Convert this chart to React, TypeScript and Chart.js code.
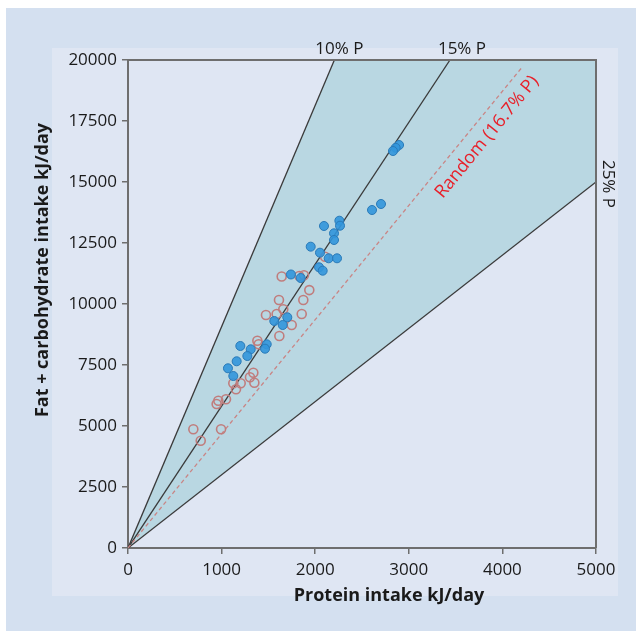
import React, { useEffect, useRef } from 'react';
import { Chart, registerables } from 'chart.js';
Chart.register(...registerables);

// Filled blue circles
const blueProtein = [2896, 2860, 2831, 2703, 2607, 2258, 2265, 2094, 2201, 2201, 1952, 2051, 2144, 2233, 2041, 2080, 1741, 1845, 1563, 1702, 1653, 1200, 1311, 1482, 1464, 1275, 1161, 1068, 1125];
const blueFatCarb = [16516, 16400, 16270, 14098, 13852, 13414, 13209, 13197, 12897, 12623, 12350, 12103, 11873, 11873, 11504, 11365, 11210, 11066, 9303, 9455, 9139, 8279, 8143, 8348, 8168, 7869, 7652, 7365, 7049];

// Open (hollow) circles
const openProtein = [2105, 1642, 1830, 1880, 1937, 1613, 1873, 1474, 1588, 1659, 1749, 1856, 1617, 1382, 1396, 1339, 1303, 1350, 1125, 1204, 1154, 1047, 965, 947, 698, 994, 777];
const openFatCarb = [11939, 11130, 11148, 11176, 10570, 10164, 10164, 9549, 9590, 9783, 9139, 9590, 8689, 8496, 8348, 7185, 6996, 6775, 6750, 6750, 6504, 6094, 6037, 5902, 4865, 4865, 4398];

// Reference lines (from origin to end point)
const refLabels = ['10% P', '15% P', '25% P', 'Random (16.7% P)'];
const refEndProtein = [2205, 3440, 5000, 4210];
const refEndFatCarb = [20000, 20000, 15000, 19700];

// Axes
const xMin = 0, xMax = 5000, xStep = 1000;
const yMin = 0, yMax = 20000, yStep = 2500;
const xTitle = 'Protein intake kJ/day';
const yTitle = 'Fat + carbohydrate intake kJ/day';

const FONT = "'Open Sans', sans-serif";

const pts = (xs: number[], ys: number[]) => xs.map((x, i) => ({ x, y: ys[i] }));

export default function App() {
  const ref = useRef<HTMLCanvasElement>(null);
  useEffect(() => {
    const canvas = ref.current!;
    const shadePoly = [
      { x: 0, y: 0 },
      { x: refEndProtein[0], y: refEndFatCarb[0] },
      { x: xMax, y: yMax },
      { x: refEndProtein[2], y: refEndFatCarb[2] },
      { x: 0, y: 0 },
    ];
    const refLine = (i: number) => [{ x: 0, y: 0 }, { x: refEndProtein[i], y: refEndFatCarb[i] }];

    const bgPlugin = {
      id: 'bg',
      beforeDraw(chart: any) {
        const c = chart.ctx;
        c.save();
        c.fillStyle = '#ffffff';
        c.fillRect(0, 0, chart.width, chart.height);
        c.fillStyle = '#d4e0f0';
        c.fillRect(6, 8, 630, 623);
        c.fillStyle = '#dfe6f3';
        c.fillRect(52, 48, 566, 548);
        c.restore();
      },
      afterDatasetsDraw(chart: any) {
        const c = chart.ctx;
        const a = chart.chartArea;
        c.save();
        c.strokeStyle = '#6e6e6e';
        c.lineWidth = 2;
        c.beginPath();
        c.moveTo(a.left, a.top);
        c.lineTo(a.right, a.top);
        c.lineTo(a.right, a.bottom);
        c.stroke();
        c.restore();
      },
      afterDraw(chart: any) {
        const c = chart.ctx;
        const xs = chart.scales.x, ys = chart.scales.y;
        c.save();
        c.fillStyle = '#1a1a1a';
        c.font = `17px ${FONT}`;
        c.textAlign = 'center';
        c.textBaseline = 'middle';
        c.fillText(refLabels[0], xs.getPixelForValue(refEndProtein[0]) + 5, 49);
        c.fillText(refLabels[1], xs.getPixelForValue(refEndProtein[1]) + 12, 49);
        // 25% label rotated
        c.save();
        c.translate(608, ys.getPixelForValue(refEndFatCarb[2]) + 2);
        c.rotate(Math.PI / 2);
        c.textAlign = 'center';
        c.fillText(refLabels[2], 0, 0);
        c.restore();
        // Random label
        const x0 = xs.getPixelForValue(0), y0 = ys.getPixelForValue(0);
        const x1 = xs.getPixelForValue(refEndProtein[3]), y1 = ys.getPixelForValue(refEndFatCarb[3]);
        const ang = Math.atan2(y1 - y0, x1 - x0);
        c.save();
        c.translate(xs.getPixelForValue(3835), ys.getPixelForValue(16844));
        c.rotate(ang);
        c.fillStyle = '#e8202a';
        c.font = `18px ${FONT}`;
        c.fillText(refLabels[3], 0, 0);
        c.restore();
        // axis titles
        c.font = `bold 18px ${FONT}`;
        c.fillStyle = '#1a1a1a';
        c.fillText(xTitle, 389, 596);
        c.save();
        c.translate(43, 270);
        c.rotate(-Math.PI / 2);
        c.fillText(yTitle, 0, 0);
        c.restore();
        c.restore();
      },
    };

    const chart = new Chart(canvas, {
      type: 'scatter',
      data: {
        datasets: [
          {
            data: pts(blueProtein, blueFatCarb),
            backgroundColor: 'rgba(50,150,220,0.9)',
            borderColor: '#2a7ab8',
            borderWidth: 1,
            pointRadius: 4.5,
            order: 1,
          },
          {
            data: pts(openProtein, openFatCarb),
            backgroundColor: 'rgba(0,0,0,0)',
            borderColor: '#c07d7d',
            borderWidth: 1.6,
            pointRadius: 4.5,
            order: 2,
          },
          {
            data: refLine(0), showLine: true, borderColor: '#3a3a3a', borderWidth: 1.3, pointRadius: 0, order: 5,
          },
          {
            data: refLine(1), showLine: true, borderColor: '#3a3a3a', borderWidth: 1.3, pointRadius: 0, order: 5,
          },
          {
            data: refLine(2), showLine: true, borderColor: '#3a3a3a', borderWidth: 1.3, pointRadius: 0, order: 5,
          },
          {
            data: refLine(3), showLine: true, borderColor: '#c98585', borderWidth: 1.3, borderDash: [4, 3], pointRadius: 0, order: 4,
          },
          {
            data: shadePoly, showLine: true, borderWidth: 0, borderColor: 'rgba(0,0,0,0)', pointRadius: 0,
            fill: 'shape', backgroundColor: '#b9d7e2', order: 10,
          } as any,
        ],
      },
      options: {
        animation: false,
        responsive: false,
        events: [],
        layout: { padding: { left: 0, top: 60, right: 46, bottom: 0 } },
        plugins: { legend: { display: false }, tooltip: { enabled: false } },
        scales: {
          x: {
            type: 'linear', min: xMin, max: xMax,
            afterFit: (s: any) => { s.height = 89; },
            ticks: { stepSize: xStep, color: '#1a1a1a', font: { family: FONT, size: 17 }, padding: 6, maxRotation: 0, callback: (v: any) => String(v) },
            grid: { drawOnChartArea: false, drawTicks: true, tickLength: 6, color: '#6e6e6e', lineWidth: 1.5 },
            border: { display: true, color: '#6e6e6e', width: 2 },
          },
          y: {
            type: 'linear', min: yMin, max: yMax,
            afterFit: (s: any) => { s.width = 128; },
            ticks: { stepSize: yStep, color: '#1a1a1a', font: { family: FONT, size: 17 }, padding: 5, callback: (v: any) => String(v) },
            grid: { drawOnChartArea: false, drawTicks: true, tickLength: 6, color: '#6e6e6e', lineWidth: 1.5 },
            border: { display: true, color: '#6e6e6e', width: 2 },
          },
        },
      } as any,
      plugins: [bgPlugin],
    });
    return () => chart.destroy();
  }, []);
  return (
    <div style={{ position: 'fixed', left: 0, top: 0, width: 642, height: 637, background: '#fff' }}>
      <canvas ref={ref} width={642} height={637} style={{ display: 'block', width: 642, height: 637 }} />
    </div>
  );
}
